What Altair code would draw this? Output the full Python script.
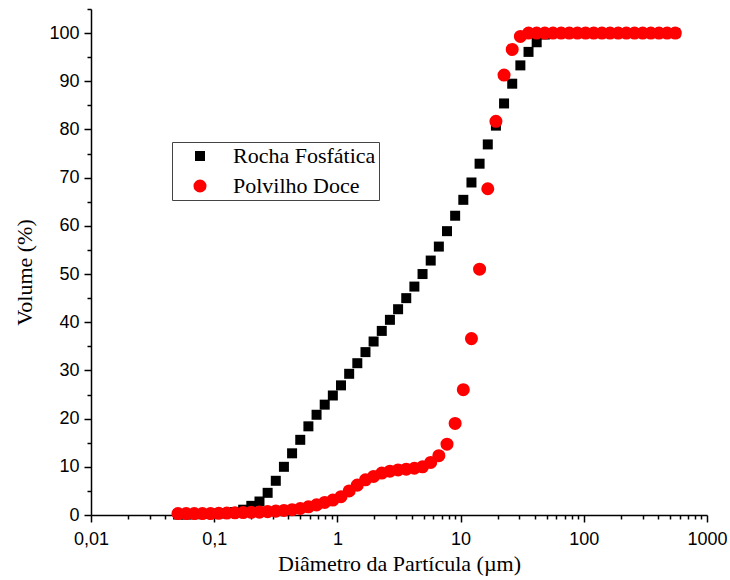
import altair as alt
import pandas as pd

# Particle diameter (µm), shared by both series
diametro = [0.0508, 0.0592, 0.0689, 0.0802, 0.0934, 0.1088, 0.1267, 0.1475, 0.1718, 0.2001,
            0.2331, 0.2715, 0.3162, 0.3681, 0.4287, 0.4994, 0.5816, 0.6774, 0.7889, 0.9183,
            1.070, 1.246, 1.451, 1.690, 1.967, 2.292, 2.669, 3.109, 3.621, 4.216,
            4.910, 5.720, 6.660, 7.756, 9.031, 10.52, 12.25, 14.26, 16.62, 19.35,
            22.53, 26.24, 30.56, 35.59, 41.45, 48.27, 56.22, 65.48, 76.25, 88.80,
            103.4, 120.4, 140.3, 163.3, 190.2, 221.5, 258.1, 300.6, 350.0, 407.6,
            474.7, 552.8]

rocha = [0.1, 0.1, 0.15, 0.2, 0.25, 0.3, 0.4, 0.6, 1.1, 1.9,
         2.8, 4.6, 7.1, 10.0, 12.8, 15.6, 18.4, 20.8, 22.9, 24.8,
         26.9, 29.3, 31.5, 33.8, 36.0, 38.2, 40.5, 42.7, 45.0, 47.4,
         50.0, 52.8, 55.7, 58.9, 62.1, 65.4, 69.0, 72.9, 76.9, 80.8,
         85.4, 89.5, 93.3, 96.1, 98.1, 99.7, 100, 100, 100, 100,
         100, 100, 100, 100, 100, 100, 100, 100, 100, 100,
         100, 100]

polvilho = [0.3, 0.3, 0.3, 0.3, 0.3, 0.35, 0.4, 0.45, 0.5, 0.55,
            0.6, 0.7, 0.8, 0.95, 1.1, 1.35, 1.7, 2.1, 2.6, 3.1,
            3.8, 5.0, 6.2, 7.3, 8.0, 8.7, 9.1, 9.35, 9.5, 9.7,
            10.0, 10.9, 12.3, 14.7, 19.0, 26.0, 36.6, 51.0, 67.7, 81.7,
            91.3, 96.6, 99.3, 100, 100, 100, 100, 100, 100, 100,
            100, 100, 100, 100, 100, 100, 100, 100, 100, 100,
            100, 100]

series = ["Rocha Fosfática", "Polvilho Doce"]

x_major = [0.01, 0.1, 1, 10, 100, 1000]
x_minor = [0.02, 0.03, 0.04, 0.05, 0.06, 0.07, 0.08, 0.09,
           0.2, 0.3, 0.4, 0.5, 0.6, 0.7, 0.8, 0.9,
           2, 3, 4, 5, 6, 7, 8, 9,
           20, 30, 40, 50, 60, 70, 80, 90,
           200, 300, 400, 500, 600, 700, 800, 900]
y_major = [0, 10, 20, 30, 40, 50, 60, 70, 80, 90, 100]
y_minor = [5, 15, 25, 35, 45, 55, 65, 75, 85, 95, 105]

rows = []
for name, vals in zip(series, [rocha, polvilho]):
    for d, v in zip(diametro, vals):
        rows.append({"d": d, "v": v, "serie": name})
df = pd.DataFrame(rows)

xscale = alt.Scale(type="log", domain=[0.01, 1000], nice=False)
yscale = alt.Scale(domain=[0, 105], nice=False, zero=False)

legend = alt.Legend(
    title=None, orient="none", legendX=81, legendY=133,
    strokeColor="#444444", fillColor="white", padding=3, rowPadding=8,
    symbolOffset=14, labelOffset=22, labelFont="Liberation Serif",
    labelFontSize=22, labelColor="black", symbolStrokeWidth=0, labelLimit=400,
)

minor = alt.Chart(df).mark_point(opacity=0).encode(
    x=alt.X("d:Q", scale=xscale,
            axis=alt.Axis(values=x_minor, orient="bottom", labels=False, title="",
                          tickSize=4, domain=False, grid=False)),
    y=alt.Y("v:Q", scale=yscale,
            axis=alt.Axis(values=y_minor, orient="left", labels=False, title="",
                          tickSize=4, domain=False, grid=False)),
)

points = alt.Chart(df).mark_point(filled=True, opacity=1, strokeWidth=0).encode(
    x=alt.X("d:Q", scale=xscale,
            axis=alt.Axis(values=x_major, orient="bottom", title="Diâmetro da Partícula (µm)",
                          labelExpr="replace(toString(datum.value), '.', ',')",
                          labelFlush=False, labelOverlap=False,
                          tickSize=7, grid=False, labelPadding=8, titlePadding=5)),
    y=alt.Y("v:Q", scale=yscale,
            axis=alt.Axis(values=y_major, orient="left", title="Volume (%)",
                          labelFlush=False, labelOverlap=False,
                          tickSize=7, grid=False, labelPadding=5, titlePadding=12, titleY=263)),
    color=alt.Color("serie:N", scale=alt.Scale(domain=series, range=["#000000", "#ff0000"]), legend=legend),
    shape=alt.Shape("serie:N", scale=alt.Scale(domain=series, range=["square", "circle"]), legend=legend),
    size=alt.Size("serie:N", scale=alt.Scale(domain=series, range=[100, 170]), legend=legend),
)

chart = alt.layer(minor, points).resolve_axis(
    x="independent", y="independent"
).properties(
    width=616, height=506,
    padding={"left": 91, "top": 9, "right": 23, "bottom": 65},
    autosize=alt.AutoSizeParams(type="none"),
    background="white",
).configure_view(
    strokeWidth=0
).configure_axis(
    domainColor="black", domainWidth=1.5, tickColor="black", tickWidth=1.5,
    labelFont="Liberation Sans", labelFontSize=18, labelColor="black",
    titleFont="Liberation Serif", titleFontSize=22, titleFontWeight="normal", titleColor="black",
)

chart.save("out.html", embed_options={"renderer": "svg", "actions": False})
